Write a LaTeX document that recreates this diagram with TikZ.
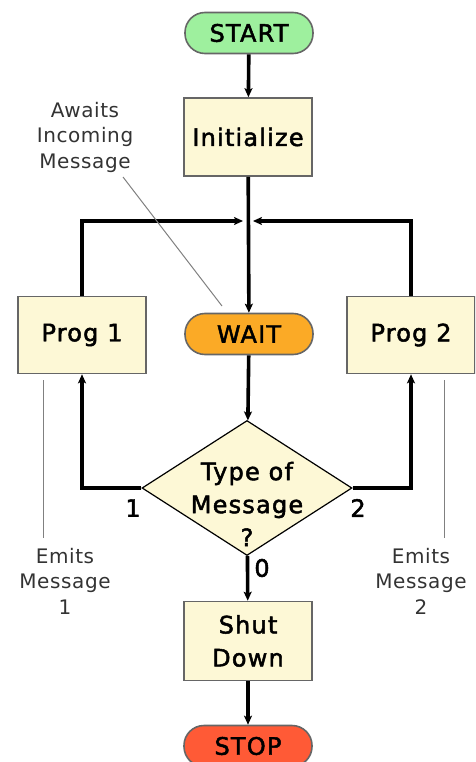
\documentclass[tikz,border=0pt]{standalone}
\usepackage{fontspec}
\setmainfont{DejaVu Sans}
\newfontfamily\flowfont{DejaVu Sans}[FakeBold=2, LetterSpace=5]
\newfontfamily\notefont{DejaVu Sans}[LetterSpace=3]
\usetikzlibrary{shapes.geometric,arrows.meta,positioning}
\definecolor{boxfill}{HTML}{FDF8D6}
\definecolor{boxline}{HTML}{666666}
\definecolor{startfill}{HTML}{9EF09E}
\definecolor{waitfill}{HTML}{FBAA26}
\definecolor{stopfill}{HTML}{FF5A36}
\definecolor{notegray}{HTML}{333333}
\tikzset{
  every node/.style={inner sep=0pt, font=\flowfont\fontsize{24}{33}\selectfont},
  procbox/.style={draw=boxline, line width=1.6pt, fill=boxfill, minimum width=128pt, minimum height=78pt, align=center},
  pill/.style={draw=boxline, line width=1.6pt, rounded corners=20pt, minimum width=128pt, minimum height=41pt},
  decision/.style={diamond, draw=black, line width=1.2pt, fill=boxfill, minimum width=210pt, minimum height=135pt},
  flow/.style={line width=3.6pt, -{Stealth[length=9pt,width=8pt,inset=2pt]}},
  note/.style={font=\notefont\fontsize{20}{25.5}\selectfont, text=notegray, align=center},
  noteline/.style={draw=gray, line width=1pt},
  decisiontext/.style={align=center}
}
\begin{document}
\begin{tikzpicture}[x=1pt,y=-1pt]
  \useasboundingbox (0,0) rectangle (475,762);
  \clip (0,0) rectangle (475,762);

  % process nodes
  \node[pill, fill=startfill] (start) at (249,33) {START};
  \node[procbox] (init) at (248,137) {Initialize};
  \node[pill, fill=waitfill] (wait) at (249,334) {WAIT};
  \node[procbox, minimum height=77pt] (prog1) at (82,335) {Prog 1};
  \node[procbox, minimum height=77pt] (prog2) at (411,335) {Prog 2};
  \node[decision] (dec) at (247,488) {};
  \node[decisiontext] (dectext) at (247,504) {Type of\\Message\\?};
  \node[procbox, minimum height=79pt] (shut) at (248,641) {Shut\\Down};
  \node[pill, fill=stopfill] (stop) at (248,746) {STOP};

  % merge point of the return paths
  \coordinate (mergeL) at (243,221);
  \coordinate (mergeR) at (253,221);

  % main flow
  \draw[flow] (start) -- (init);
  \draw[flow] (init) -- (wait);
  \draw[flow] (wait) -- (dec);
  \draw[flow] (dec) -- (shut);
  \draw[flow] (shut) -- (stop);

  % branches to the programs and back
  \draw[flow] (dec.west) -| (prog1.south);
  \draw[flow] (dec.east) -| (prog2.south);
  \draw[flow] (prog1.north) |- (mergeL);
  \draw[flow] (prog2.north) |- (mergeR);

  % branch labels
  \node (b1) at (133,508) {1};
  \node (b2) at (358,508) {2};
  \node (b0) at (262,568) {0};

  % annotations
  \node[note] (awaits) at (85,137) {Awaits\\Incoming\\Message};
  \coordinate (awaitsStart) at (123,177);
  \coordinate (awaitsEnd) at (222,306);
  \draw[noteline] (awaitsStart) -- (awaitsEnd);

  \node[note] (emit1) at (65,581) {Emits\\Message\\1};
  \node[note] (emit2) at (421,581) {Emits\\Message\\2};
  \coordinate (e1top) at (43,380);
  \coordinate (e1bot) at (43,538);
  \coordinate (e2top) at (444,380);
  \coordinate (e2bot) at (444,538);
  \draw[noteline] (e1top) -- (e1bot);
  \draw[noteline] (e2top) -- (e2bot);
\end{tikzpicture}
\end{document}
